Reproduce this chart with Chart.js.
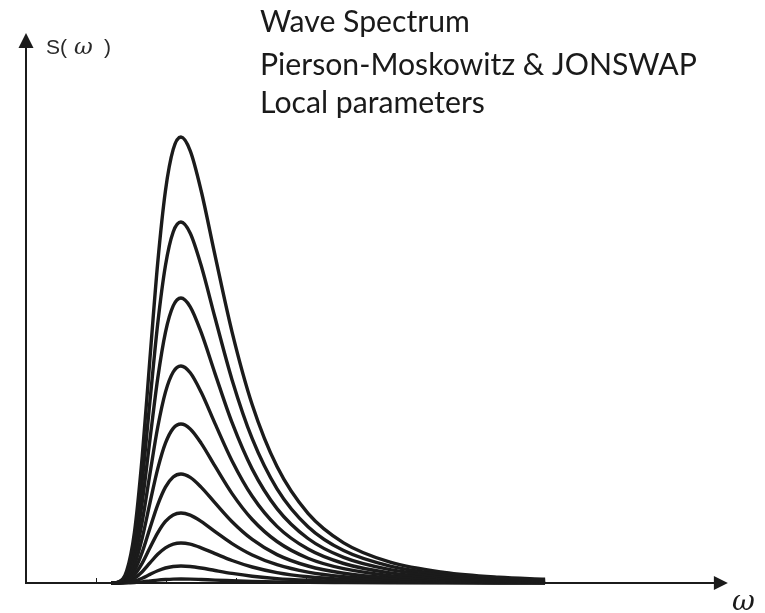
<!DOCTYPE html>
<html>
<head>
<meta charset="utf-8">
<script src="https://cdn.jsdelivr.net/npm/chart.js@4/dist/chart.umd.min.js"></script>
<style>
  html, body { margin: 0; padding: 0; background: #ffffff; }
  #wrap { position: relative; width: 765px; height: 613px; }
</style>
</head>
<body>
<div id="wrap"><canvas id="c"></canvas></div>
<script>
// Frequency samples (omega / omega_peak)
const omega = [0.55, 0.60, 0.65, 0.70, 0.75, 0.80, 0.85, 0.90, 0.95, 1.00, 1.06, 1.13, 1.22, 1.33, 1.46, 1.62, 1.82, 2.05, 2.35, 2.70, 3.05, 3.35];

// Spectral density curves S(omega) (arbitrary units)
const spec1  = [0, 1.3, 12.2, 50.8, 126.3, 224.6, 320.0, 392.3, 433.6, 446, 432.2, 392.5, 327.6, 250.9, 178.2, 116.4, 69.6, 40.1, 20.8, 10.6, 5.8, 3.7];
const spec2  = [0, 1.0, 9.9, 41.1, 102.2, 181.8, 259.1, 317.5, 351.0, 361, 349.8, 317.7, 265.2, 203.1, 144.3, 94.2, 56.3, 32.4, 16.9, 8.6, 4.7, 3.0];
const spec3  = [0, 0.8, 7.8, 32.4, 80.7, 143.5, 204.5, 250.7, 277.1, 285, 276.2, 250.8, 209.4, 160.3, 113.9, 74.4, 44.5, 25.6, 13.3, 6.8, 3.7, 2.3];
const spec4  = [0, 0.6, 5.9, 24.7, 61.4, 109.3, 155.7, 190.9, 211.0, 217, 210.3, 191.0, 159.4, 122.1, 86.7, 56.6, 33.9, 19.5, 10.1, 5.2, 2.8, 1.8];
const spec5  = [0, 0.5, 4.4, 18.1, 45.0, 80.1, 114.1, 139.8, 154.6, 159, 154.1, 139.9, 116.8, 89.4, 63.5, 41.5, 24.8, 14.3, 7.4, 3.8, 2.1, 1.3];
const spec6  = [0, 0.3, 3.0, 12.4, 30.9, 54.9, 78.2, 95.9, 106.0, 109, 105.6, 95.9, 80.1, 61.3, 43.6, 28.4, 17.0, 9.8, 5.1, 2.6, 1.4, 0.9];
const spec7  = [0, 0.2, 1.9, 8.0, 19.8, 35.2, 50.2, 61.6, 68.1, 70, 67.8, 61.6, 51.4, 39.4, 28.0, 18.3, 10.9, 6.3, 3.3, 1.7, 0.9, 0.6];
const spec8  = [0, 0.1, 1.1, 4.6, 11.3, 20.1, 28.7, 35.2, 38.9, 40, 38.8, 35.2, 29.4, 22.5, 16.0, 10.4, 6.2, 3.6, 1.9, 1.0, 0.5, 0.3];
const spec9  = [0, 0.05, 0.5, 1.9, 4.8, 8.6, 12.2, 15.0, 16.5, 17, 16.5, 15.0, 12.5, 9.6, 6.8, 4.4, 2.7, 1.5, 0.8, 0.4, 0.2, 0.1];
const spec10 = [0, 0, 0.1, 0.5, 1.1, 2.0, 2.9, 3.5, 3.9, 4, 3.9, 3.5, 2.9, 2.3, 1.6, 1.0, 0.6, 0.4, 0.2, 0.1, 0.05, 0];

const allSpectra = [spec1, spec2, spec3, spec4, spec5, spec6, spec7, spec8, spec9, spec10];

// Small tick marks along the omega axis
const omegaTicks = [0.452, 0.903, 1.355, 1.806, 2.258, 2.71, 3.161];

// Texts
const titleLines = ["Wave Spectrum", "Pierson-Moskowitz & JONSWAP", "Local parameters"];
const yLabelParts = ["S(", "\u03C9", ")"];
const xLabel = "\u03C9";

const datasets = allSpectra.map((s, k) => ({
  label: "S" + (k + 1),
  data: omega.map((w, i) => ({ x: w, y: s[i] })),
  borderColor: "#1b1b1b",
  borderWidth: 3.4,
  pointRadius: 0,
  fill: false,
  cubicInterpolationMode: "monotone",
  clip: 4
}));

const decor = {
  id: "decor",
  beforeDatasetsDraw(chart) {
    const ctx = chart.ctx;
    const xs = chart.scales.x, ys = chart.scales.y;
    const x0 = xs.getPixelForValue(0);
    const y0 = ys.getPixelForValue(0);
    const xTip = xs.getPixelForValue(4.53);
    const yTip = ys.top;
    ctx.save();
    ctx.strokeStyle = "#1b1b1b";
    ctx.fillStyle = "#1b1b1b";
    ctx.lineWidth = 2;
    // axes
    ctx.beginPath();
    ctx.moveTo(x0, y0);
    ctx.lineTo(xTip - 10, y0);
    ctx.moveTo(x0, y0 + 1);
    ctx.lineTo(x0, yTip + 10);
    ctx.stroke();
    // arrow heads
    ctx.beginPath();
    ctx.moveTo(xTip, y0);
    ctx.lineTo(xTip - 14, y0 - 7);
    ctx.lineTo(xTip - 14, y0 + 7);
    ctx.closePath();
    ctx.fill();
    ctx.beginPath();
    ctx.moveTo(x0, yTip);
    ctx.lineTo(x0 - 7.5, yTip + 15);
    ctx.lineTo(x0 + 7.5, yTip + 15);
    ctx.closePath();
    ctx.fill();
    // small ticks
    ctx.lineWidth = 1;
    ctx.beginPath();
    omegaTicks.forEach(t => {
      const px = Math.round(xs.getPixelForValue(t)) + 0.5;
      ctx.moveTo(px, y0);
      ctx.lineTo(px, y0 - 5);
    });
    ctx.stroke();
    ctx.restore();
  },
  afterDraw(chart) {
    const ctx = chart.ctx;
    ctx.save();
    // Title block
    ctx.fillStyle = "#1a1a1a";
    ctx.textBaseline = "alphabetic";
    ctx.textAlign = "left";
    ctx.font = "100px Lato";
    const w100 = ctx.measureText(titleLines[1]).width;
    const size = 100 * 437 / w100;
    ctx.font = size.toFixed(2) + "px Lato";
    const baselines = [32, 75, 113];
    titleLines.forEach((t, i) => ctx.fillText(t, 260, baselines[i]));
    // y label
    ctx.fillStyle = "#2a2a2a";
    ctx.font = "21px 'Liberation Sans'";
    ctx.fillText(yLabelParts[0], 46, 54);
    ctx.font = "italic 23px 'DejaVu Serif'";
    ctx.fillText(yLabelParts[1], 74, 54);
    ctx.font = "21px 'Liberation Sans'";
    ctx.fillText(yLabelParts[2], 104, 54);
    // x label
    ctx.fillStyle = "#1a1a1a";
    ctx.font = "italic 28px 'DejaVu Serif'";
    ctx.fillText(xLabel, 732, 610);
    ctx.restore();
  }
};

new Chart(document.getElementById("c"), {
  type: "line",
  data: { datasets },
  options: {
    responsive: true,
    maintainAspectRatio: false,
    animation: false,
    layout: { padding: { left: 26, top: 33, right: 34, bottom: 30 } },
    plugins: { legend: { display: false }, tooltip: { enabled: false }, title: { display: false } },
    scales: {
      x: { type: "linear", min: 0, max: 4.55, display: false },
      y: { type: "linear", min: 0, max: 550, display: false }
    }
  },
  plugins: [decor]
});
</script>
</body>
</html>
